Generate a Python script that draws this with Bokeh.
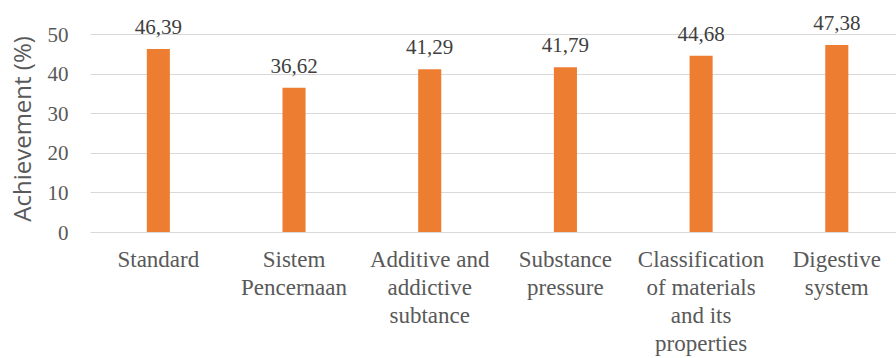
from bokeh.plotting import figure
from bokeh.models import ColumnDataSource, LabelSet, Range1d, FixedTicker
from bokeh.embed import file_html
from bokeh.resources import INLINE

categories = ["Standard", "Sistem\nPencernaan", "Additive and\naddictive\nsubtance",
              "Substance\npressure", "Classification\nof materials\nand its\nproperties",
              "Digestive\nsystem"]
values = [46.39, 36.62, 41.29, 41.79, 44.68, 47.38]
y_ticks = [0, 10, 20, 30, 40, 50]

x = list(range(len(categories)))
labels = [f"{v:.2f}".replace(".", ",") for v in values]
src = ColumnDataSource(dict(x=x, top=values, label=labels))

SERIF = "Liberation Serif"

p = figure(width=896, height=358, output_backend="svg", toolbar_location=None,
           x_range=Range1d(-0.5, 5.44), y_range=Range1d(0, 58.66),
           min_border_left=90, min_border_right=0, min_border_top=0, min_border_bottom=126)
p.outline_line_color = None
p.background_fill_color = "white"
p.border_fill_color = "white"

p.vbar(x="x", top="top", bottom=0, width=0.17, source=src,
       fill_color="#ED7D31", line_color=None)

p.add_layout(LabelSet(x="x", y="top", text="label", source=src, text_align="center",
                      text_baseline="alphabetic", y_offset=15,
                      text_font=SERIF, text_font_size="21px",
                      text_color="#404040"))

# y axis
p.yaxis.ticker = FixedTicker(ticks=y_ticks)
p.yaxis.axis_line_color = None
p.yaxis.major_tick_line_color = None
p.yaxis.minor_tick_line_color = None
p.yaxis.major_tick_out = 0
p.yaxis.major_tick_in = 0
p.yaxis.major_label_standoff = 22
p.yaxis.major_label_text_font = SERIF
p.yaxis.major_label_text_font_size = "21px"
p.yaxis.major_label_text_color = "#595959"
p.yaxis.axis_label = "Achievement (%)" + "\u00a0" * 4
p.yaxis.axis_label_text_font = "Open Sans"
p.yaxis.axis_label_text_font_style = "normal"
p.yaxis.axis_label_text_font_size = "24px"
p.yaxis.axis_label_text_color = "#595959"
p.yaxis.axis_label_standoff = 7

# x axis
p.xaxis.ticker = FixedTicker(ticks=x)
p.xaxis.major_label_overrides = {i: c for i, c in zip(x, categories)}
p.xaxis.axis_line_color = "#d9d9d9"
p.xaxis.axis_line_width = 1
p.xaxis.major_tick_line_color = None
p.xaxis.minor_tick_line_color = None
p.xaxis.major_tick_out = 0
p.xaxis.major_tick_in = 0
p.xaxis.major_label_standoff = 14
p.xaxis.major_label_text_font = SERIF
p.xaxis.major_label_text_font_size = "23px"
p.xaxis.major_label_text_color = "#595959"
p.xaxis.major_label_text_line_height = 1.12

p.xgrid.grid_line_color = None
p.ygrid.ticker = FixedTicker(ticks=y_ticks)
p.ygrid.grid_line_color = "#d9d9d9"
p.ygrid.grid_line_width = 1

open("out.html", "w").write(file_html(p, INLINE))
